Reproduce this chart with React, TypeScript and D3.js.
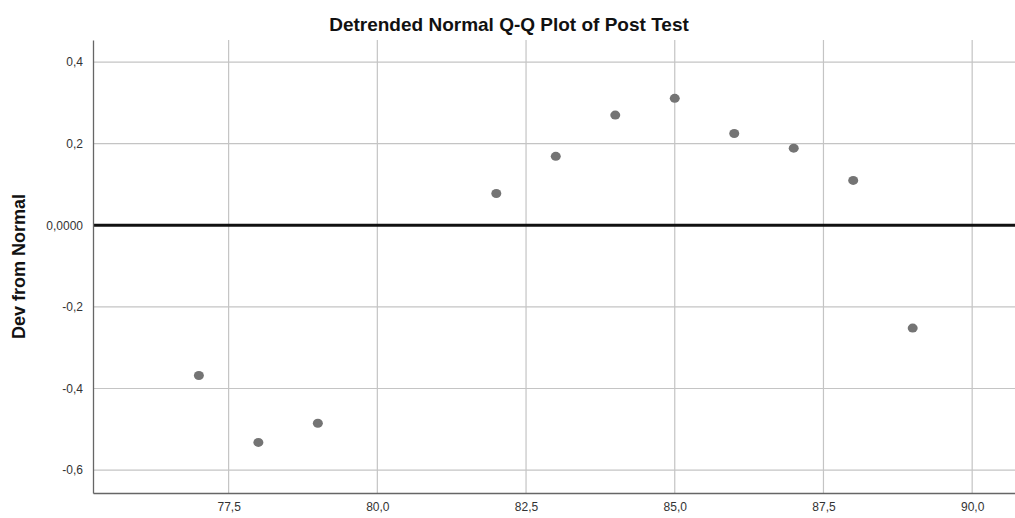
import React, { useEffect, useRef } from "react";
import * as d3 from "d3";

// observed values and their detrended deviation from normal
const observed = [77, 78, 79, 82, 83, 84, 85, 86, 87, 88, 89];
const deviation = [-0.368, -0.532, -0.485, 0.078, 0.169, 0.27, 0.311, 0.225, 0.189, 0.11, -0.252];

const xTicks = [77.5, 80, 82.5, 85, 87.5, 90];
const yTicks = [-0.6, -0.4, -0.2, 0, 0.2, 0.4];

const comma = (v: number, digits: number) => v.toFixed(digits).replace(".", ",");

const App = () => {
  const chartRef = useRef<HTMLDivElement>(null);

  useEffect(() => {
    const width = 1015;
    const height = 518;
    const margin = { top: 40, right: 0, bottom: 25, left: 93 };
    const font = "'Liberation Sans', Arial, sans-serif";

    d3.select(chartRef.current).selectAll("*").remove();

    const svg = d3
      .select(chartRef.current)
      .append("svg")
      .attr("width", width)
      .attr("height", height)
      .style("display", "block")
      .style("font-family", font);

    const x = d3.scaleLinear().domain([75.22, 90.72]).range([margin.left, width - margin.right]);
    const y = d3.scaleLinear().domain([-0.656, 0.454]).range([height - margin.bottom, margin.top]);

    // grid lines
    const grid = svg.append("g").attr("stroke", "#c4c4c4").attr("stroke-width", 1.2);
    grid
      .selectAll("line.gx")
      .data(xTicks)
      .join("line")
      .attr("class", "gx")
      .attr("x1", (d) => x(d))
      .attr("x2", (d) => x(d))
      .attr("y1", y.range()[1])
      .attr("y2", y.range()[0]);
    grid
      .selectAll("line.gy")
      .data(yTicks.filter((d) => d !== 0))
      .join("line")
      .attr("class", "gy")
      .attr("x1", x.range()[0])
      .attr("x2", x.range()[1])
      .attr("y1", (d) => y(d))
      .attr("y2", (d) => y(d));

    // zero reference line
    svg
      .append("line")
      .attr("x1", x.range()[0])
      .attr("x2", x.range()[1])
      .attr("y1", y(0))
      .attr("y2", y(0))
      .attr("stroke", "#111")
      .attr("stroke-width", 3);

    // axes
    const xAxis = svg
      .append("g")
      .attr("transform", `translate(0,${y.range()[0]})`)
      .call(
        d3.axisBottom(x).tickValues(xTicks).tickSize(0).tickPadding(9)
          .tickFormat((d) => comma(d as number, 1))
      );
    const yAxis = svg
      .append("g")
      .attr("transform", `translate(${x.range()[0]},0)`)
      .call(
        d3.axisLeft(y).tickValues(yTicks).tickSize(0).tickPadding(10)
          .tickFormat((d) => (d === 0 ? "0,0000" : comma(d as number, 1)))
      );
    [xAxis, yAxis].forEach((a) => {
      a.select(".domain").attr("stroke", "#666").attr("stroke-width", 1.3);
      a.selectAll("text").attr("font-size", 12).attr("fill", "#333").style("font-family", font);
    });

    // points
    svg
      .append("g")
      .selectAll("ellipse")
      .data(observed)
      .join("ellipse")
      .attr("cx", (d) => x(d))
      .attr("cy", (d, i) => y(deviation[i]))
      .attr("rx", 5)
      .attr("ry", 4.5)
      .attr("fill", "#747474");

    // title and axis label
    svg
      .append("text")
      .attr("x", 509)
      .attr("y", 31)
      .attr("text-anchor", "middle")
      .attr("font-size", 19)
      .attr("font-weight", "bold")
      .attr("fill", "#111")
      .text("Detrended Normal Q-Q Plot of Post Test");

    svg
      .append("text")
      .attr("transform", `translate(25,${(y.range()[0] + y.range()[1]) / 2}) rotate(-90)`)
      .attr("text-anchor", "middle")
      .attr("font-size", 18)
      .attr("font-weight", "bold")
      .attr("fill", "#111")
      .text("Dev from Normal");
  }, []);

  return (
    <div
      ref={chartRef}
      style={{ position: "fixed", left: 0, top: 0, width: 1015, height: 518, overflow: "hidden", background: "#fff" }}
    ></div>
  );
};

export default App;
